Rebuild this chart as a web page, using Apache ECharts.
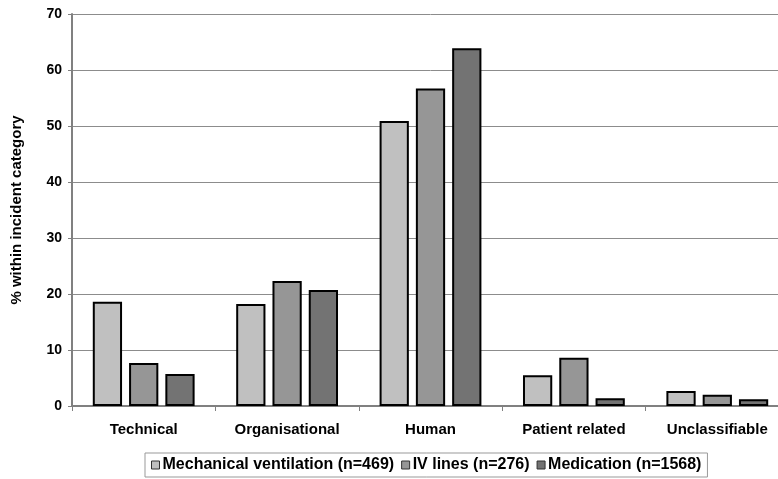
<!DOCTYPE html>
<html><head><meta charset="utf-8">
<script src="https://cdn.jsdelivr.net/npm/echarts@6/dist/echarts.min.js"></script>
<style>html,body{margin:0;padding:0;background:#fff;overflow:hidden}#c{width:789px;height:479px}</style>
</head><body><div id="c"></div>
<script>
const categories = ['Technical', 'Organisational', 'Human', 'Patient related', 'Unclassifiable'];
const seriesNames = ['Mechanical ventilation (n=469)', 'IV lines (n=276)', 'Medication (n=1568)'];
const mechVent = [18.6, 18.2, 50.9, 5.5, 2.7];
const ivLines = [7.7, 22.3, 56.7, 8.6, 2.0];
const medication = [5.7, 20.7, 63.9, 1.4, 1.2];
const colors = ['#c0c0c0', '#969696', '#737373'];
const values = [mechVent, ivLines, medication];
const font = 'Arial, "Liberation Sans", sans-serif';

const chart = echarts.init(document.getElementById('c'));
chart.setOption({
  animation: false,
  grid: { left: 72, right: 0, top: 14, height: 392, containLabel: false },
  xAxis: {
    type: 'category', data: categories,
    axisLine: { lineStyle: { color: '#808080', width: 2 } },
    axisTick: { show: true, length: 5, lineStyle: { color: '#808080' } },
    axisLabel: { color: '#000', fontWeight: 'bold', fontSize: 15, fontFamily: font, margin: 16 }
  },
  yAxis: {
    type: 'value', min: 0, max: 70, interval: 10,
    name: '% within incident category', nameLocation: 'middle', nameGap: 48, nameRotate: 90,
    nameTextStyle: { color: '#000', fontWeight: 'bold', fontSize: 15, fontFamily: font },
    axisLine: { show: true, lineStyle: { color: '#808080', width: 2 } },
    axisTick: { show: true, length: 4, lineStyle: { color: '#808080' } },
    axisLabel: { color: '#000', fontWeight: 'bold', fontSize: 14, fontFamily: font, margin: 10 },
    splitLine: { lineStyle: { color: '#8c8c8c', width: 1 } }
  },
  legend: {
    top: 453, left: 145,
    data: seriesNames,
    icon: 'rect',
    itemWidth: 8, itemHeight: 8, itemGap: 7,
    borderColor: '#999', borderWidth: 1, padding: [4, 6, 4, 6],
    textStyle: { color: '#000', fontWeight: 'bold', fontSize: 16, fontFamily: font, padding: [0, 0, 0, -2] },
    itemStyle: { borderColor: '#333', borderWidth: 1 }
  },
  series: values.map((v, i) => ({
    name: seriesNames[i], type: 'bar', data: v,
    barGap: '24%', barCategoryGap: '29%',
    itemStyle: { color: colors[i], borderColor: '#000', borderWidth: 2 }
  }))
});
</script></body></html>
